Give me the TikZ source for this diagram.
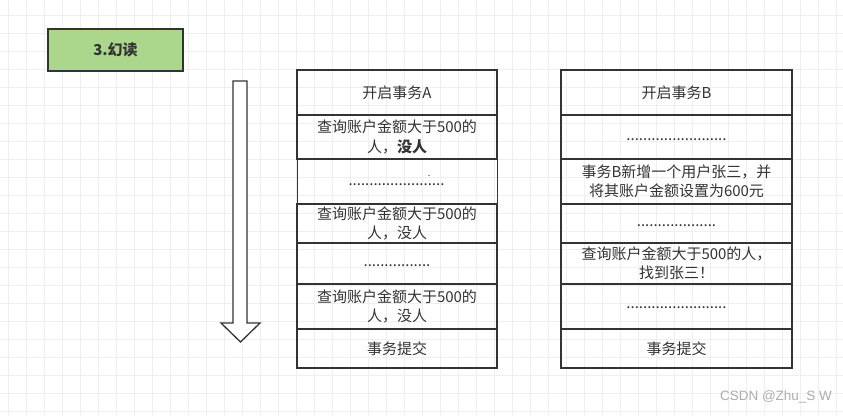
\documentclass[tikz,border=0pt]{standalone}
\usepackage{fontspec}
\newfontfamily\cjk{Noto Sans CJK SC}
\newfontfamily\wmfont{Liberation Sans}
\definecolor{linec}{HTML}{333333}
\definecolor{textc}{HTML}{333333}
\definecolor{gridc}{HTML}{EFEFEF}
\definecolor{greenc}{HTML}{ABD78D}
\begin{document}
\begin{tikzpicture}[x=1pt,y=-1pt,
  cell/.style={draw=linec, line width=1.3pt, inner sep=0pt, outer sep=0pt,
    align=center, text=textc, font=\cjk\fontsize{15}{19.5}\selectfont},
  colA/.style={cell, minimum width=200pt},
  colB/.style={cell, minimum width=231pt},
  dotline/.style={inner sep=0pt, text=textc, font=\cjk\fontsize{15}{19.5}\selectfont}]
\fill[white] (0,0) rectangle (843,415);
\useasboundingbox (0,0) rectangle (843,415);
% faint grid
\foreach \x in {8,26,...,843} \draw[gridc, line width=0.6pt] (\x,0) -- (\x,415);
\foreach \y in {15,33,...,415} \draw[gridc, line width=0.6pt] (0,\y) -- (843,\y);
% title
\node[draw=linec, line width=1.3pt, fill=greenc, inner sep=0pt, minimum width=135pt,
  minimum height=42pt, text=textc, font=\cjk\bfseries\fontsize{15}{18}\selectfont]
  (title) at (115.5,50) {3.幻读};
% time arrow
\draw[linec, line width=1.3pt, fill=white, line join=miter]
  (233,81) -- (247,81) -- (247,323) -- (260,323) -- (240.5,342) -- (221,323) -- (233,323) -- cycle;
% column A
\node[colA, minimum height=45pt] (a1) at (397,92.5) {开启事务A};
\node[colA, minimum height=44pt] (a2) at (397,137) {查询账户金额大于500的\\人，{\bfseries 没人}};
\node[colA, minimum height=45pt] (a3) at (397.5,181.5) {};
\node[colA, minimum height=39pt] (a4) at (397,223.5) {查询账户金额大于500的\\人，没人};
\node[colA, minimum height=41pt] (a5) at (397,263.5) {};
\node[colA, minimum height=45pt] (a6) at (397,306.5) {查询账户金额大于500的\\人，没人};
\node[colA, minimum height=39pt] (a7) at (397,348.5) {事务提交};
\node[dotline] (a3d) at (396.5,185) {.......................};
\fill[textc] (429,175.5) circle (0.7pt);
\node[dotline] (a5d) at (397,266) {................};
% column B
\node[colB, minimum height=45pt] (b1) at (676.5,92.5) {开启事务B};
\node[colB, minimum height=44pt] (b2) at (676.5,137) {};
\node[colB, minimum height=45pt] (b3) at (676.5,181.5) {事务B新增一个用户张三，并\\将其账户金额设置为600元};
\node[colB, minimum height=39pt] (b4) at (676.5,223.5) {};
\node[colB, minimum height=41pt] (b5) at (676.5,263.5) {查询账户金额大于500的人，\\找到张三！};
\node[colB, minimum height=45pt] (b6) at (676.5,306.5) {};
\node[colB, minimum height=39pt] (b7) at (676.5,348.5) {事务提交};
\node[dotline] (b2d) at (676.5,140) {........................};
\node[dotline] (b4d) at (676.5,226) {...................};
\node[dotline] (b6d) at (676.5,308) {........................};
% watermark
\node[inner sep=0pt, text=black!32, font=\wmfont\fontsize{13.5}{16}\selectfont]
  (wm) at (776,397) {CSDN @Zhu\_S W};
\end{tikzpicture}
\end{document}
